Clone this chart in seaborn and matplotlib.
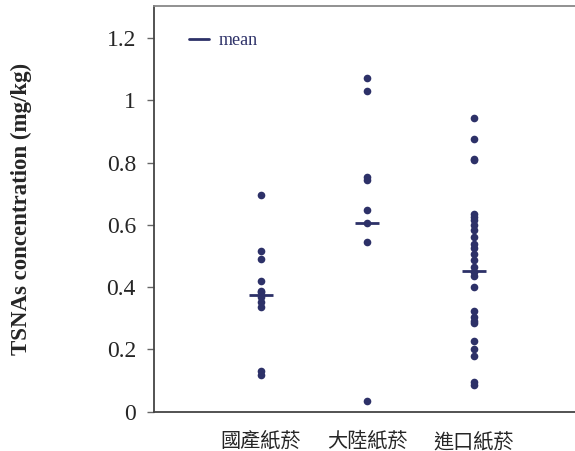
import matplotlib
matplotlib.use("Agg")
import matplotlib.pyplot as plt
from matplotlib.lines import Line2D
import seaborn as sns
import pandas as pd

# data
groups = ["國產紙菸", "大陸紙菸", "進口紙菸"]
domestic = [0.695, 0.516, 0.490, 0.419, 0.388, 0.383, 0.367, 0.351, 0.335, 0.132, 0.119]
mainland = [1.072, 1.030, 0.755, 0.745, 0.649, 0.607, 0.544, 0.034]
imported = [0.942, 0.875, 0.812, 0.808, 0.635, 0.625, 0.615, 0.600, 0.585, 0.561,
            0.538, 0.525, 0.508, 0.487, 0.465, 0.450, 0.435, 0.402, 0.322, 0.305,
            0.290, 0.285, 0.228, 0.201, 0.180, 0.095, 0.085]
means = [0.376, 0.607, 0.452]
yticks = [0, 0.2, 0.4, 0.6, 0.8, 1, 1.2]
ytick_labels = ["0", "0.2", "0.4", "0.6", "0.8", "1", "1.2"]

navy = "#2d3168"

df = pd.DataFrame({
    "group": [groups[0]] * len(domestic) + [groups[1]] * len(mainland) + [groups[2]] * len(imported),
    "value": domestic + mainland + imported,
})
mdf = pd.DataFrame({"group": groups, "value": means})

sns.set_style("white")
plt.rcParams["font.family"] = ["Liberation Serif", "Noto Sans CJK TC"]

fig = plt.figure(figsize=(5.75, 4.51), dpi=100)
ax = fig.add_axes([0.2678, 0.0871, 0.741, 0.8996])

sns.stripplot(data=df, x="group", y="value", order=groups, jitter=False,
              color=navy, size=5.5, linewidth=0, ax=ax)
sns.scatterplot(data=mdf, x="group", y="value", marker="_", s=280,
                color=navy, linewidth=2, ax=ax, legend=False, zorder=5)

ax.set_xlim(-1, 3)
ax.set_ylim(0, 1.303)
ax.set_yticks(yticks)
ax.set_yticklabels(ytick_labels, fontsize=17)
ax.set_xticks(range(len(groups)))
ax.set_xticklabels(groups, family=["Noto Sans CJK TC"], fontsize=14.5)
ax.tick_params(axis="x", length=0, pad=14)
ax.tick_params(axis="y", length=5, width=1, color="#666666", direction="out",
               left=True, pad=8)
ax.set_xlabel("")
ax.set_ylabel("TSNAs concentration (mg/kg)", fontsize=16.5, fontweight="bold")
ax.yaxis.set_label_coords(-0.287, 0.5)

ax.spines["right"].set_visible(False)
ax.spines["left"].set_color("#444444")
ax.spines["bottom"].set_color("#444444")
ax.spines["top"].set_color("#888888")
for s in ["left", "bottom", "top"]:
    ax.spines[s].set_linewidth(1.3)

handle = Line2D([], [], color=navy, linewidth=2)
leg = ax.legend([handle], ["mean"], loc="upper left", bbox_to_anchor=(0.045, 0.975),
                frameon=False, fontsize=13, handlelength=1.1, handletextpad=0.5)
for t in leg.get_texts():
    t.set_color(navy)

fig.savefig("out.png", dpi=100)
